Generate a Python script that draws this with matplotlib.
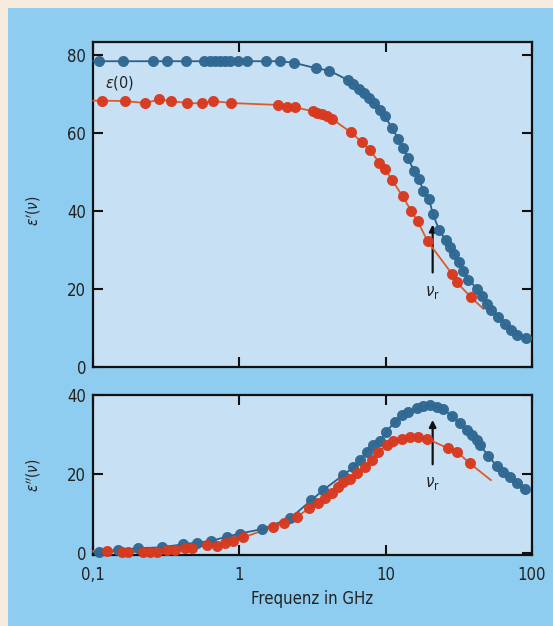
import matplotlib.pyplot as plt
from matplotlib.patches import Rectangle
from matplotlib.ticker import NullLocator, FixedLocator
from matplotlib import font_manager

# eps' (top) - blue and red series, freq in GHz
blue_top_f = [0.109, 0.160, 0.257, 0.319, 0.430, 0.573, 0.629, 0.681, 0.736, 0.796, 0.862, 0.977, 1.13, 1.52, 1.90, 2.37,
              3.34, 4.12, 5.51, 6.02, 6.62, 7.16, 7.75, 8.38, 9.17, 9.93, 11.0, 12.2, 13.2, 14.2, 15.7, 17.0, 18.1, 19.9,
              21.0, 23.3, 25.8, 27.6, 29.4, 31.8, 34.1, 36.9, 42.1, 45.5, 49.3, 52.5, 59.2, 65.8, 72.3, 79.8, 91.2]
blue_top_v = [78.3, 78.3, 78.3, 78.3, 78.3, 78.3, 78.3, 78.3, 78.3, 78.3, 78.3, 78.3, 78.3, 78.3, 78.3, 77.9,
              76.5, 75.9, 73.5, 72.4, 71.1, 70.1, 68.9, 67.6, 65.8, 64.2, 61.3, 58.5, 56.2, 53.6, 50.1, 48.1, 45.1, 42.9,
              39.3, 35.0, 32.4, 30.7, 29.0, 26.9, 24.7, 22.4, 20.1, 18.1, 16.2, 14.7, 12.8, 11.1, 9.5, 8.3, 7.4]
red_top_f = [0.114, 0.165, 0.226, 0.283, 0.340, 0.436, 0.552, 0.663, 0.871, 1.85, 2.11, 2.40,
             3.18, 3.41, 3.66, 3.96, 4.28, 5.78, 6.87, 7.83, 9.07, 9.93, 11.1, 13.1, 15.0, 16.6, 19.4, 28.4, 30.7, 38.3]
red_top_v = [68.2, 68.1, 67.6, 68.5, 68.1, 67.6, 67.5, 68.1, 67.6, 67.1, 66.6, 66.5,
             65.5, 65.1, 64.7, 64.2, 63.6, 60.1, 57.6, 55.5, 52.3, 50.8, 47.8, 43.7, 39.9, 37.3, 32.2, 23.9, 21.7, 17.9]

# eps'' (bottom)
blue_bot_f = [0.110, 0.148, 0.203, 0.294, 0.413, 0.510, 0.637, 0.819, 1.01, 1.42, 2.22, 3.1, 3.75, 5.14, 6.02, 6.69,
              7.43, 8.25, 9.17, 10.07, 11.6, 12.9, 14.3, 16.4, 18.1, 20.2, 22.4, 24.9, 28.4, 32.4, 36.0, 38.9, 42.1,
              44.4, 50.6, 57.7, 64.0, 71.1, 79.8, 90.1]
blue_bot_v = [0.4, 0.8, 1.3, 1.5, 2.3, 2.7, 3.1, 4.2, 5.0, 6.1, 8.8, 13.4, 16.0, 19.8, 21.7, 23.6,
              25.7, 27.3, 28.4, 30.7, 33.2, 34.9, 35.8, 36.6, 37.2, 37.4, 37.0, 36.4, 34.7, 32.8, 31.1, 29.9, 28.6,
              27.3, 24.6, 22.0, 20.6, 19.2, 17.7, 16.2]
red_bot_f = [0.124, 0.156, 0.174, 0.220, 0.244, 0.272, 0.318, 0.362, 0.425, 0.472, 0.597, 0.700, 0.796, 0.908, 1.06,
             1.71, 2.02, 2.47, 3.01, 3.47, 3.85, 4.28, 4.75, 5.14, 5.71, 6.35, 7.24, 8.05, 8.93, 10.2, 11.3, 12.9,
             14.7, 16.8, 19.1, 26.9, 30.7, 37.8]
red_bot_v = [0.7, 0.4, 0.4, 0.4, 0.4, 0.4, 0.8, 0.8, 1.3, 1.4, 2.1, 1.9, 2.5, 3.2, 4.0,
             6.7, 7.7, 9.2, 11.4, 12.6, 13.9, 15.2, 16.8, 18.1, 18.9, 20.2, 21.9, 23.6, 25.7, 27.3, 28.4, 28.8,
             29.3, 29.3, 29.0, 26.5, 25.7, 22.7]

# where the fitted lines run beyond the markers
line_start = {'blue_top': (0.1, 78.3), 'red_top': (0.1, 68.2), 'blue_bot': (0.1, 0.3), 'red_bot': (0.1, 0.6)}
line_end = {'red_top': (46.7, 14.9), 'red_bot': (52.5, 18.5)}

nu_r = 21.0
xticks = [0.1, 1, 10, 100]
xticklabels = ['0,1', '1', '10', '100']

CREAM = '#F6ECDD'
PANEL = '#8ECDEF'
AXBG = '#C8E0F3'
BLUE = '#2F6892'
BLUE_LINE = '#2B5F86'
RED = '#D8391E'
RED_LINE = '#DD5A2A'
TXT = '#222222'

# pick a narrow face if one is around
names = {f.name for f in font_manager.fontManager.ttflist}
FONT = [n for n in ['Liberation Sans Narrow', 'DejaVu Sans'] if n in names]
plt.rcParams['font.family'] = FONT
plt.rcParams['font.stretch'] = 'condensed'

fig = plt.figure(figsize=(5.53, 6.26), dpi=100, facecolor=CREAM)
fig.patches.append(Rectangle((8 / 553, 0), 1, 1 - 8 / 626, transform=fig.transFigure,
                             facecolor=PANEL, edgecolor='none', zorder=-10))

ax1 = fig.add_axes([93.3 / 553, 1 - 367 / 626, 438.4 / 553, 325.3 / 626])
ax2 = fig.add_axes([93.3 / 553, 1 - 555 / 626, 438.4 / 553, 160 / 626])


def series(ax, f, v, key, mcol, lcol):
    lf = list(f)
    lv = list(v)
    if key in line_start:
        lf = [line_start[key][0]] + lf
        lv = [line_start[key][1]] + lv
    if key in line_end:
        lf = lf + [line_end[key][0]]
        lv = lv + [line_end[key][1]]
    ax.plot(lf, lv, color=lcol, lw=1.3, zorder=3, clip_on=False)
    ax.plot(f, v, 'o', ms=7.3, color=mcol, mec=mcol, mew=0.6, alpha=0.97, zorder=4, clip_on=False)


for ax in (ax1, ax2):
    ax.set_facecolor(AXBG)
    ax.set_xscale('log')
    ax.set_xlim(0.1, 100)
    ax.xaxis.set_major_locator(FixedLocator(xticks))
    ax.xaxis.set_minor_locator(NullLocator())
    for s in ax.spines.values():
        s.set_linewidth(1.6)
        s.set_color('#111111')
    ax.tick_params(direction='in', length=7, width=1.5, color='#111111', top=True, right=True,
                   labelsize=12, labelcolor=TXT, pad=5)

series(ax1, blue_top_f, blue_top_v, 'blue_top', BLUE, BLUE_LINE)
series(ax1, red_top_f, red_top_v, 'red_top', RED, RED_LINE)
ax1.set_ylim(0, 83.3)
ax1.set_yticks([0, 20, 40, 60, 80])
ax1.set_xticklabels([])
ax1.set_ylabel(r"$\varepsilon'(\nu)$", fontsize=11, color=TXT)
ax1.yaxis.set_label_coords(-0.115, 0.48)
ax1.text(0.12, 72.7, r"$\varepsilon$(0)", fontsize=11.5, color=TXT, va='center', ha='left')
ax1.annotate('', xy=(nu_r, 37.2), xytext=(nu_r, 23.5),
             arrowprops=dict(arrowstyle='-|>', lw=1.6, color='#111111', mutation_scale=10), zorder=2)
ax1.text(nu_r, 19.2, r"$\nu_\mathrm{r}$", fontsize=12, color=TXT, ha='center', va='center')

series(ax2, blue_bot_f, blue_bot_v, 'blue_bot', BLUE, BLUE_LINE)
series(ax2, red_bot_f, red_bot_v, 'red_bot', RED, RED_LINE)
ax2.set_ylim(-0.43, 40)
ax2.set_yticks([0, 20, 40])
ax2.set_xticklabels(xticklabels)
ax2.tick_params(axis='x', pad=8)
ax2.set_ylabel(r"$\varepsilon''(\nu)$", fontsize=11, color=TXT)
ax2.yaxis.set_label_coords(-0.115, 0.5)
ax2.set_xlabel('Frequenz in GHz', fontsize=12, color=TXT, labelpad=4)
ax2.annotate('', xy=(nu_r, 34.4), xytext=(nu_r, 21.8),
             arrowprops=dict(arrowstyle='-|>', lw=1.6, color='#111111', mutation_scale=10), zorder=2)
ax2.text(nu_r, 17.7, r"$\nu_\mathrm{r}$", fontsize=12, color=TXT, ha='center', va='center')

fig.savefig('out.png', dpi=100, facecolor=CREAM)
